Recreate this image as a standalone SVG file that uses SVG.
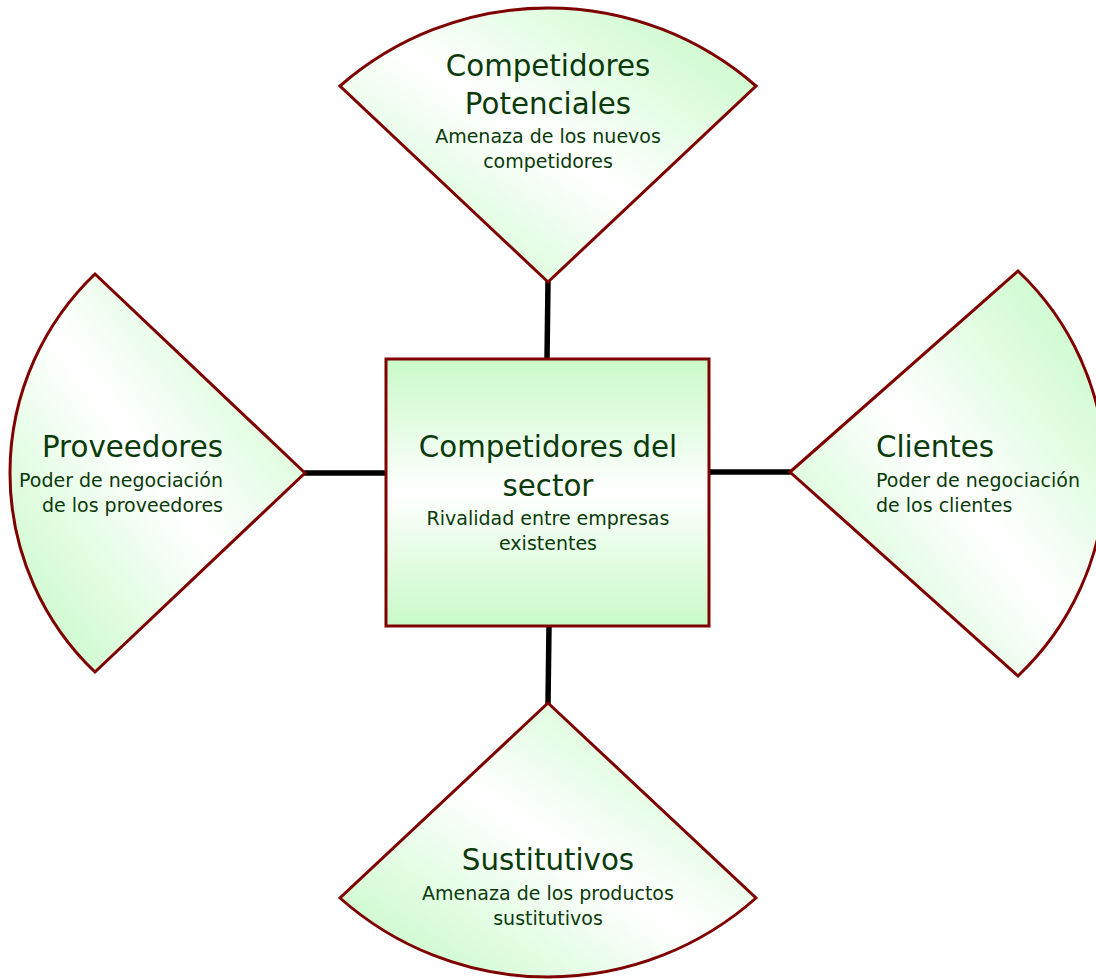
<svg xmlns="http://www.w3.org/2000/svg" width="1096" height="979" viewBox="0 0 1096 979">
<defs>
<linearGradient id="gw" x1="1" y1="0" x2="0" y2="1">
<stop offset="0" stop-color="#c8fac8"/>
<stop offset="0.08" stop-color="#cafacb"/>
<stop offset="0.5" stop-color="#ffffff"/>
<stop offset="0.92" stop-color="#cafacb"/>
<stop offset="1" stop-color="#c8fac8"/>
</linearGradient>
<linearGradient id="gr" x1="0" y1="0" x2="0" y2="1">
<stop offset="0" stop-color="#c8fac8"/>
<stop offset="0.5" stop-color="#ffffff"/>
<stop offset="1" stop-color="#c8fac8"/>
</linearGradient>
<style>
.shape{fill:url(#gw);stroke:#7f0000;stroke-width:3;stroke-linejoin:miter}
.rect{fill:url(#gr);stroke:#7f0000;stroke-width:3}
.h{font-family:"DejaVu Sans",sans-serif;font-size:29.3px;fill:#0a3a0a}
.s{font-family:"DejaVu Sans",sans-serif;font-size:19px;fill:#0a3a0a}
.c{text-anchor:middle}
.e{text-anchor:end}
.conn{stroke:#000;stroke-width:5.5;stroke-linecap:round;fill:none}
</style>
</defs>
<g id="connectors">
<line class="conn" x1="548" y1="282" x2="547" y2="359"/>
<line class="conn" x1="305" y1="473" x2="386" y2="473"/>
<line class="conn" x1="708" y1="472" x2="790" y2="472"/>
<line class="conn" x1="549" y1="626" x2="548" y2="703"/>
</g>
<g id="node-potenciales">
<path class="shape" d="M548,282 L340,86 A316,316 0 0 1 756,86 Z"/>
<text class="h c" x="548" y="76">Competidores</text>
<text class="h c" x="548" y="114">Potenciales</text>
<text class="s c" x="548" y="143">Amenaza de los nuevos</text>
<text class="s c" x="548" y="168">competidores</text>
</g>
<g id="node-proveedores">
<path class="shape" d="M305,473 L95,274 A275.4,275.4 0 0 0 95,672 Z"/>
<text class="h e" x="223" y="457">Proveedores</text>
<text class="s e" x="223" y="487">Poder de negociación</text>
<text class="s e" x="223" y="512">de los proveedores</text>
</g>
<g id="node-sector">
<rect class="rect" x="386" y="359" width="323" height="267"/>
<text class="h c" x="548" y="457">Competidores del</text>
<text class="h c" x="548" y="496">sector</text>
<text class="s c" x="548" y="525">Rivalidad entre empresas</text>
<text class="s c" x="548" y="550">existentes</text>
</g>
<g id="node-clientes">
<path class="shape" d="M790,472 L1018,271 A278.6,278.6 0 0 1 1018,676 Z"/>
<text class="h" x="876" y="457">Clientes</text>
<text class="s" x="876" y="487">Poder de negociación</text>
<text class="s" x="876" y="512">de los clientes</text>
</g>
<g id="node-sustitutivos">
<path class="shape" d="M548,703 L756,898 A313.3,313.3 0 0 1 340,898 Z"/>
<text class="h c" x="548" y="870">Sustitutivos</text>
<text class="s c" x="548" y="900">Amenaza de los productos</text>
<text class="s c" x="548" y="925">sustitutivos</text>
</g>
</svg>
